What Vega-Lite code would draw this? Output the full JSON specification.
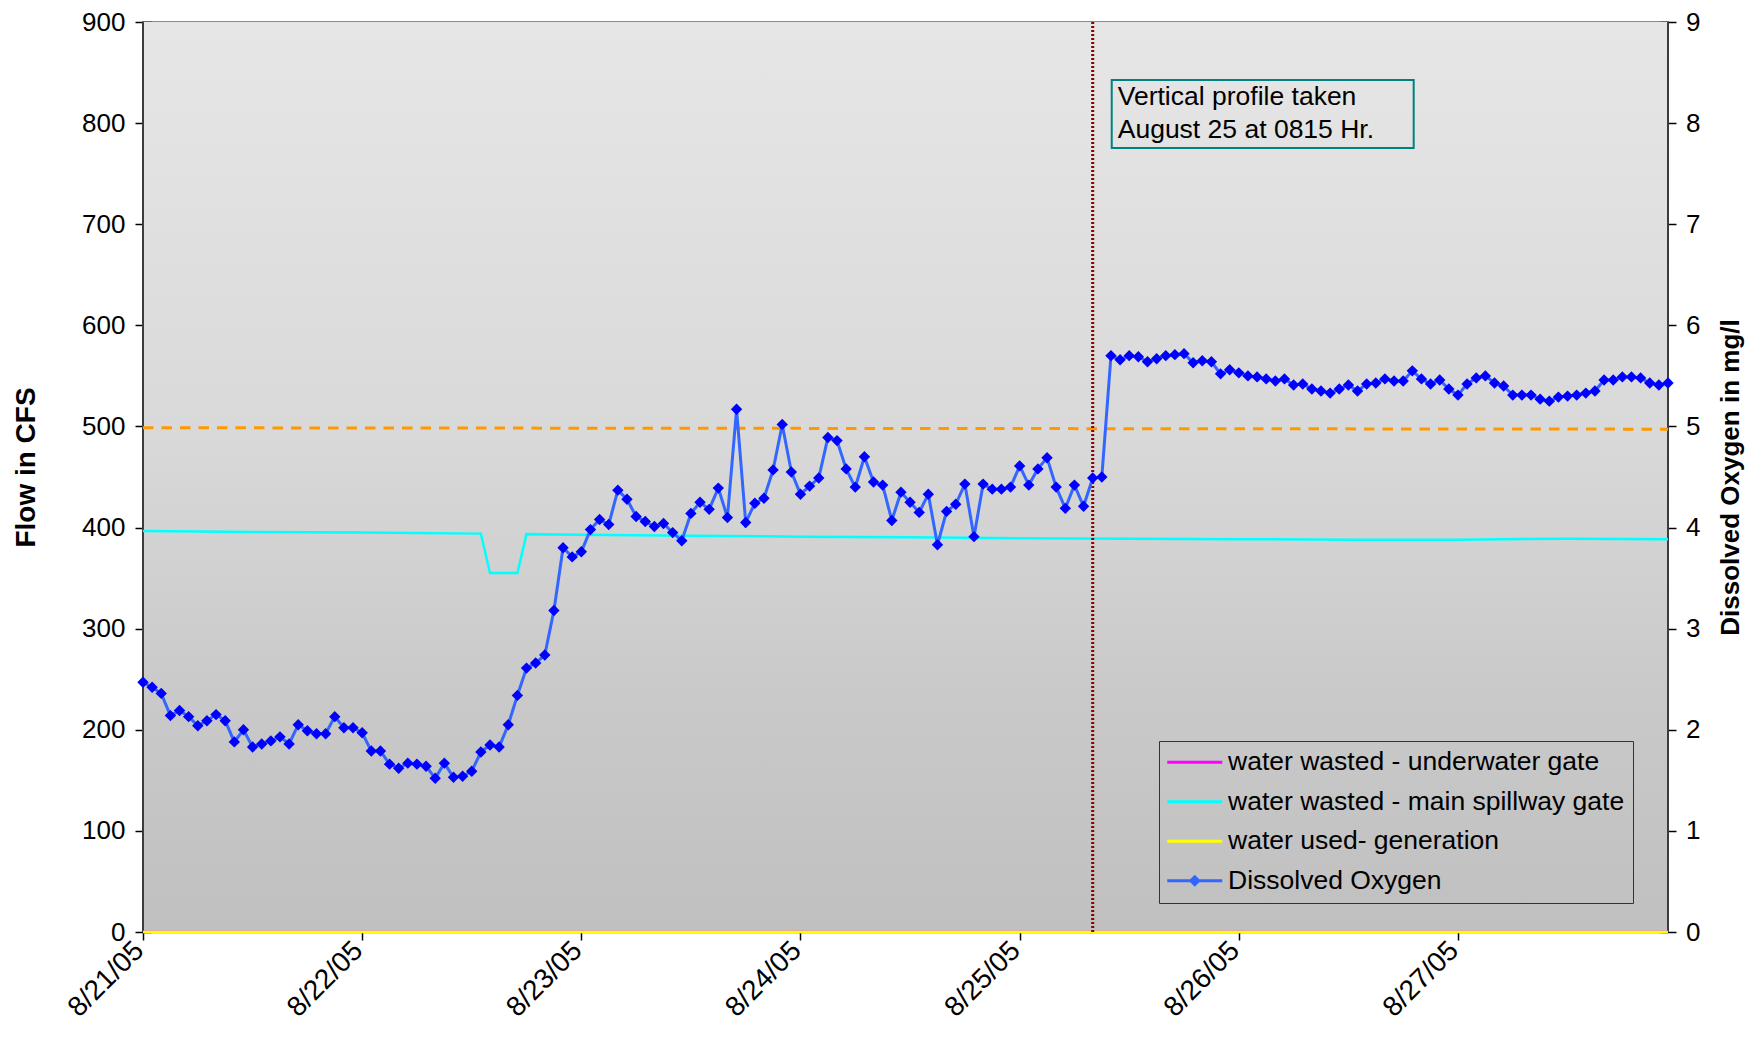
{
"$schema": "https://vega.github.io/schema/vega-lite/v6.json",
"width": 1525, "height": 910,
"autosize": {"type": "none"},
"padding": {"left": 143, "top": 22, "right": 79, "bottom": 109},
"background": "#ffffff",
"config": {
  "view": {"stroke": "#8a8a8a", "strokeWidth": 2},
  "font": "Liberation Sans",
  "axis": {"labelFont": "Liberation Sans", "labelFontSize": 26, "labelColor": "#000000", "titleFont": "Liberation Sans", "titleFontSize": 26, "titleFontWeight": "bold", "titleColor": "#000000", "tickColor": "#000000", "tickWidth": 1.5, "tickSize": 16, "offset": -8, "domain": false, "grid": false}
},
"datasets": {
  "flow": [
    {"t": "2005-08-21T00:00", "series": "water wasted - underwater gate", "v": 0},
    {"t": "2005-08-27T23:00", "series": "water wasted - underwater gate", "v": 0},
    {"t": "2005-08-21T00:00", "series": "water wasted - main spillway gate", "v": 396.5},
    {"t": "2005-08-21T12:00", "series": "water wasted - main spillway gate", "v": 395.5},
    {"t": "2005-08-22T00:00", "series": "water wasted - main spillway gate", "v": 395},
    {"t": "2005-08-22T13:00", "series": "water wasted - main spillway gate", "v": 394},
    {"t": "2005-08-22T14:00", "series": "water wasted - main spillway gate", "v": 355},
    {"t": "2005-08-22T17:00", "series": "water wasted - main spillway gate", "v": 355},
    {"t": "2005-08-22T18:00", "series": "water wasted - main spillway gate", "v": 393.5},
    {"t": "2005-08-23T00:00", "series": "water wasted - main spillway gate", "v": 393},
    {"t": "2005-08-23T12:00", "series": "water wasted - main spillway gate", "v": 392},
    {"t": "2005-08-24T00:00", "series": "water wasted - main spillway gate", "v": 391},
    {"t": "2005-08-24T12:00", "series": "water wasted - main spillway gate", "v": 390.5},
    {"t": "2005-08-25T00:00", "series": "water wasted - main spillway gate", "v": 389.5},
    {"t": "2005-08-25T12:00", "series": "water wasted - main spillway gate", "v": 389},
    {"t": "2005-08-26T00:00", "series": "water wasted - main spillway gate", "v": 388.5},
    {"t": "2005-08-26T12:00", "series": "water wasted - main spillway gate", "v": 388},
    {"t": "2005-08-27T00:00", "series": "water wasted - main spillway gate", "v": 388},
    {"t": "2005-08-27T12:00", "series": "water wasted - main spillway gate", "v": 389},
    {"t": "2005-08-27T23:00", "series": "water wasted - main spillway gate", "v": 388.5},
    {"t": "2005-08-21T00:00", "series": "water used- generation", "v": 0},
    {"t": "2005-08-27T23:00", "series": "water used- generation", "v": 0}
  ],
  "std": [
    {"t": "2005-08-21T00:00", "v": 498.7},
    {"t": "2005-08-27T23:00", "v": 497.3}
  ],
  "do": [
    {"t":"2005-08-21T00:00","v":2.47},{"t":"2005-08-21T01:00","v":2.42},{"t":"2005-08-21T02:00","v":2.36},{"t":"2005-08-21T03:00","v":2.14},{"t":"2005-08-21T04:00","v":2.19},{"t":"2005-08-21T05:00","v":2.13},{"t":"2005-08-21T06:00","v":2.04},{"t":"2005-08-21T07:00","v":2.09},{"t":"2005-08-21T08:00","v":2.15},{"t":"2005-08-21T09:00","v":2.09},{"t":"2005-08-21T10:00","v":1.88},{"t":"2005-08-21T11:00","v":2.00},{"t":"2005-08-21T12:00","v":1.83},{"t":"2005-08-21T13:00","v":1.86},{"t":"2005-08-21T14:00","v":1.89},{"t":"2005-08-21T15:00","v":1.93},{"t":"2005-08-21T16:00","v":1.86},{"t":"2005-08-21T17:00","v":2.05},{"t":"2005-08-21T18:00","v":1.99},{"t":"2005-08-21T19:00","v":1.96},{"t":"2005-08-21T20:00","v":1.96},{"t":"2005-08-21T21:00","v":2.13},{"t":"2005-08-21T22:00","v":2.02},{"t":"2005-08-21T23:00","v":2.02},
    {"t":"2005-08-22T00:00","v":1.97},{"t":"2005-08-22T01:00","v":1.79},{"t":"2005-08-22T02:00","v":1.79},{"t":"2005-08-22T03:00","v":1.66},{"t":"2005-08-22T04:00","v":1.62},{"t":"2005-08-22T05:00","v":1.67},{"t":"2005-08-22T06:00","v":1.66},{"t":"2005-08-22T07:00","v":1.64},{"t":"2005-08-22T08:00","v":1.52},{"t":"2005-08-22T09:00","v":1.67},{"t":"2005-08-22T10:00","v":1.53},{"t":"2005-08-22T11:00","v":1.54},{"t":"2005-08-22T12:00","v":1.59},{"t":"2005-08-22T13:00","v":1.78},{"t":"2005-08-22T14:00","v":1.85},{"t":"2005-08-22T15:00","v":1.83},{"t":"2005-08-22T16:00","v":2.05},{"t":"2005-08-22T17:00","v":2.34},{"t":"2005-08-22T18:00","v":2.61},{"t":"2005-08-22T19:00","v":2.66},{"t":"2005-08-22T20:00","v":2.74},{"t":"2005-08-22T21:00","v":3.18},{"t":"2005-08-22T22:00","v":3.80},{"t":"2005-08-22T23:00","v":3.71},
    {"t":"2005-08-23T00:00","v":3.76},{"t":"2005-08-23T01:00","v":3.98},{"t":"2005-08-23T02:00","v":4.08},{"t":"2005-08-23T03:00","v":4.03},{"t":"2005-08-23T04:00","v":4.37},{"t":"2005-08-23T05:00","v":4.28},{"t":"2005-08-23T06:00","v":4.11},{"t":"2005-08-23T07:00","v":4.06},{"t":"2005-08-23T08:00","v":4.01},{"t":"2005-08-23T09:00","v":4.04},{"t":"2005-08-23T10:00","v":3.95},{"t":"2005-08-23T11:00","v":3.87},{"t":"2005-08-23T12:00","v":4.14},{"t":"2005-08-23T13:00","v":4.25},{"t":"2005-08-23T14:00","v":4.18},{"t":"2005-08-23T15:00","v":4.39},{"t":"2005-08-23T16:00","v":4.10},{"t":"2005-08-23T17:00","v":5.17},{"t":"2005-08-23T18:00","v":4.05},{"t":"2005-08-23T19:00","v":4.24},{"t":"2005-08-23T20:00","v":4.29},{"t":"2005-08-23T21:00","v":4.57},{"t":"2005-08-23T22:00","v":5.02},{"t":"2005-08-23T23:00","v":4.55},
    {"t":"2005-08-24T00:00","v":4.33},{"t":"2005-08-24T01:00","v":4.41},{"t":"2005-08-24T02:00","v":4.49},{"t":"2005-08-24T03:00","v":4.89},{"t":"2005-08-24T04:00","v":4.86},{"t":"2005-08-24T05:00","v":4.58},{"t":"2005-08-24T06:00","v":4.40},{"t":"2005-08-24T07:00","v":4.70},{"t":"2005-08-24T08:00","v":4.45},{"t":"2005-08-24T09:00","v":4.42},{"t":"2005-08-24T10:00","v":4.07},{"t":"2005-08-24T11:00","v":4.35},{"t":"2005-08-24T12:00","v":4.25},{"t":"2005-08-24T13:00","v":4.15},{"t":"2005-08-24T14:00","v":4.33},{"t":"2005-08-24T15:00","v":3.83},{"t":"2005-08-24T16:00","v":4.16},{"t":"2005-08-24T17:00","v":4.23},{"t":"2005-08-24T18:00","v":4.43},{"t":"2005-08-24T19:00","v":3.91},{"t":"2005-08-24T20:00","v":4.43},{"t":"2005-08-24T21:00","v":4.38},{"t":"2005-08-24T22:00","v":4.38},{"t":"2005-08-24T23:00","v":4.40},
    {"t":"2005-08-25T00:00","v":4.61},{"t":"2005-08-25T01:00","v":4.42},{"t":"2005-08-25T02:00","v":4.58},{"t":"2005-08-25T03:00","v":4.69},{"t":"2005-08-25T04:00","v":4.40},{"t":"2005-08-25T05:00","v":4.19},{"t":"2005-08-25T06:00","v":4.42},{"t":"2005-08-25T07:00","v":4.21},{"t":"2005-08-25T08:00","v":4.49},{"t":"2005-08-25T09:00","v":4.50},{"t":"2005-08-25T10:00","v":5.70},{"t":"2005-08-25T11:00","v":5.66},{"t":"2005-08-25T12:00","v":5.70},{"t":"2005-08-25T13:00","v":5.69},{"t":"2005-08-25T14:00","v":5.64},{"t":"2005-08-25T15:00","v":5.67},{"t":"2005-08-25T16:00","v":5.70},{"t":"2005-08-25T17:00","v":5.71},{"t":"2005-08-25T18:00","v":5.72},{"t":"2005-08-25T19:00","v":5.63},{"t":"2005-08-25T20:00","v":5.65},{"t":"2005-08-25T21:00","v":5.64},{"t":"2005-08-25T22:00","v":5.52},{"t":"2005-08-25T23:00","v":5.56},
    {"t":"2005-08-26T00:00","v":5.53},{"t":"2005-08-26T01:00","v":5.50},{"t":"2005-08-26T02:00","v":5.49},{"t":"2005-08-26T03:00","v":5.47},{"t":"2005-08-26T04:00","v":5.45},{"t":"2005-08-26T05:00","v":5.47},{"t":"2005-08-26T06:00","v":5.41},{"t":"2005-08-26T07:00","v":5.42},{"t":"2005-08-26T08:00","v":5.37},{"t":"2005-08-26T09:00","v":5.35},{"t":"2005-08-26T10:00","v":5.33},{"t":"2005-08-26T11:00","v":5.37},{"t":"2005-08-26T12:00","v":5.41},{"t":"2005-08-26T13:00","v":5.35},{"t":"2005-08-26T14:00","v":5.42},{"t":"2005-08-26T15:00","v":5.43},{"t":"2005-08-26T16:00","v":5.47},{"t":"2005-08-26T17:00","v":5.45},{"t":"2005-08-26T18:00","v":5.45},{"t":"2005-08-26T19:00","v":5.55},{"t":"2005-08-26T20:00","v":5.47},{"t":"2005-08-26T21:00","v":5.42},{"t":"2005-08-26T22:00","v":5.46},{"t":"2005-08-26T23:00","v":5.37},
    {"t":"2005-08-27T00:00","v":5.31},{"t":"2005-08-27T01:00","v":5.42},{"t":"2005-08-27T02:00","v":5.48},{"t":"2005-08-27T03:00","v":5.50},{"t":"2005-08-27T04:00","v":5.43},{"t":"2005-08-27T05:00","v":5.40},{"t":"2005-08-27T06:00","v":5.31},{"t":"2005-08-27T07:00","v":5.31},{"t":"2005-08-27T08:00","v":5.31},{"t":"2005-08-27T09:00","v":5.27},{"t":"2005-08-27T10:00","v":5.25},{"t":"2005-08-27T11:00","v":5.29},{"t":"2005-08-27T12:00","v":5.30},{"t":"2005-08-27T13:00","v":5.31},{"t":"2005-08-27T14:00","v":5.33},{"t":"2005-08-27T15:00","v":5.35},{"t":"2005-08-27T16:00","v":5.46},{"t":"2005-08-27T17:00","v":5.46},{"t":"2005-08-27T18:00","v":5.49},{"t":"2005-08-27T19:00","v":5.49},{"t":"2005-08-27T20:00","v":5.48},{"t":"2005-08-27T21:00","v":5.43},{"t":"2005-08-27T22:00","v":5.41},{"t":"2005-08-27T23:00","v":5.43}
  ]
},
"layer": [
  {"layer": [
    {"data": {"values": [{}]},
     "mark": {"type": "rect", "color": {"gradient": "linear", "x1": 0, "y1": 0, "x2": 0, "y2": 1, "stops": [{"offset": 0, "color": "#e6e6e6"}, {"offset": 0.12, "color": "#e3e3e3"}, {"offset": 0.45, "color": "#d9d9d9"}, {"offset": 0.745, "color": "#c9c9c9"}, {"offset": 1, "color": "#c0c0c0"}]}},
     "encoding": {
       "x": {"datum": {"year": 2005, "month": 8, "date": 21, "hours": 0}, "type": "temporal", "scale": {"domain": [{"year": 2005, "month": 8, "date": 21, "hours": 0}, {"year": 2005, "month": 8, "date": 27, "hours": 23}], "nice": false},
             "axis": {"orient": "bottom", "title": null, "format": "%-m/%-d/%y", "values": [{"year": 2005, "month": 8, "date": 21}, {"year": 2005, "month": 8, "date": 22}, {"year": 2005, "month": 8, "date": 23}, {"year": 2005, "month": 8, "date": 24}, {"year": 2005, "month": 8, "date": 25}, {"year": 2005, "month": 8, "date": 26}, {"year": 2005, "month": 8, "date": 27}], "labelAngle": 315, "labelAlign": "right", "labelBaseline": "middle", "labelPadding": 6, "labelOffset": -4, "labelFontSize": 28}},
       "x2": {"datum": {"year": 2005, "month": 8, "date": 27, "hours": 23}},
       "y": {"datum": 0, "type": "quantitative", "scale": {"domain": [0, 900], "nice": false},
             "axis": {"orient": "left", "values": [0, 100, 200, 300, 400, 500, 600, 700, 800, 900], "labelPadding": 10, "title": "Flow in CFS", "titleAngle": 270, "titleX": -117, "titleY": 445, "titleFontSize": 28, "titleBaseline": "alphabetic", "titleAlign": "center"}},
       "y2": {"datum": 900}
     }},
    {"data": {"values": [{}]},
     "mark": {"type": "rule", "color": "#3c3c3c", "strokeWidth": 2},
     "encoding": {"x": {"datum": {"year": 2005, "month": 8, "date": 21, "hours": 0}, "type": "temporal"}}},
    {"data": {"values": [{}]},
     "mark": {"type": "rule", "color": "#3c3c3c", "strokeWidth": 2},
     "encoding": {"x": {"datum": {"year": 2005, "month": 8, "date": 27, "hours": 23}, "type": "temporal"}}},
    {"data": {"name": "flow"},
     "mark": {"type": "line", "strokeWidth": 2.5},
     "encoding": {
       "x": {"field": "t", "type": "temporal"},
       "y": {"field": "v", "type": "quantitative"},
       "color": {"field": "series", "type": "nominal",
                 "scale": {"domain": ["water wasted - underwater gate", "water wasted - main spillway gate", "water used- generation", "Dissolved Oxygen"], "range": ["#ff00ff", "#00ffff", "#ffff00", "#3366ff"]},
                 "legend": {"orient": "none", "legendX": 1016, "legendY": 719, "title": null, "direction": "vertical",
                            "labelFont": "Liberation Sans", "labelFontSize": 26.5, "labelColor": "#000000", "labelLimit": 600,
                            "labelOffset": 20, "symbolSize": 400, "symbolStrokeWidth": 3, "symbolOffset": 14.5,
                            "symbolType": "M-2.75,0L2.75,0", "rowPadding": 12.5, "padding": 8, "strokeColor": "#333333",
                            "encode": {"symbols": {"update": {
                              "shape": {"signal": "datum.value === 'Dissolved Oxygen' ? 'M-2.75,0L2.75,0M0,-0.4L0.4,0L0,0.4L-0.4,0Z' : 'M-2.75,0L2.75,0'"},
                              "fill": {"signal": "datum.value === 'Dissolved Oxygen' ? '#0000ff' : 'transparent'"},
                              "strokeWidth": {"value": 3}}}}}}
     }},
    {"data": {"name": "std"},
     "mark": {"type": "line", "color": "#ff9900", "strokeWidth": 3, "strokeDash": [10.5, 8]},
     "encoding": {"x": {"field": "t", "type": "temporal"}, "y": {"field": "v", "type": "quantitative"}}},
    {"data": {"values": [{}]},
     "mark": {"type": "rule", "color": "#8b0000", "strokeWidth": 3, "strokeDash": [2, 2]},
     "encoding": {"x": {"datum": {"year": 2005, "month": 8, "date": 25, "hours": 8}, "type": "temporal"}}}
  ]},
  {"layer": [
    {"data": {"name": "do"},
     "mark": {"type": "line", "color": "#3366ff", "strokeWidth": 3},
     "encoding": {
       "x": {"field": "t", "type": "temporal"},
       "y": {"field": "v", "type": "quantitative", "scale": {"domain": [0, 9], "nice": false},
             "axis": {"orient": "right", "values": [0, 1, 2, 3, 4, 5, 6, 7, 8, 9], "format": "d", "labelPadding": 9.5, "title": "Dissolved Oxygen in mg/l", "titleAngle": 270, "titleX": 78, "titleBaseline": "alphabetic", "titleAlign": "center"}}
     }},
    {"data": {"name": "do"},
     "mark": {"type": "point", "shape": "diamond", "filled": true, "color": "#0000ff", "size": 130, "opacity": 1},
     "encoding": {"x": {"field": "t", "type": "temporal"}, "y": {"field": "v", "type": "quantitative"}}},
    {"data": {"values": [{}]},
     "mark": {"type": "rect", "filled": false, "color": "#008080", "strokeWidth": 2, "opacity": 1},
     "encoding": {
       "x": {"datum": {"year": 2005, "month": 8, "date": 25, "hours": 10, "minutes": 5}, "type": "temporal"},
       "x2": {"datum": {"year": 2005, "month": 8, "date": 26, "hours": 19, "minutes": 9}},
       "y": {"datum": 8.426, "type": "quantitative"},
       "y2": {"datum": 7.754}
     }},
    {"data": {"values": [{"note": "Vertical profile taken\nAugust 25 at 0815 Hr."}]},
     "mark": {"type": "text", "align": "left", "baseline": "alphabetic", "fontSize": 26.5, "font": "Liberation Sans", "color": "#000000", "lineHeight": 33, "lineBreak": "\n", "dx": 6},
     "encoding": {
       "x": {"datum": {"year": 2005, "month": 8, "date": 25, "hours": 10, "minutes": 5}, "type": "temporal"},
       "y": {"datum": 8.179, "type": "quantitative"},
       "text": {"field": "note"}
     }}
  ]}
],
"resolve": {"scale": {"y": "independent"}}
}
